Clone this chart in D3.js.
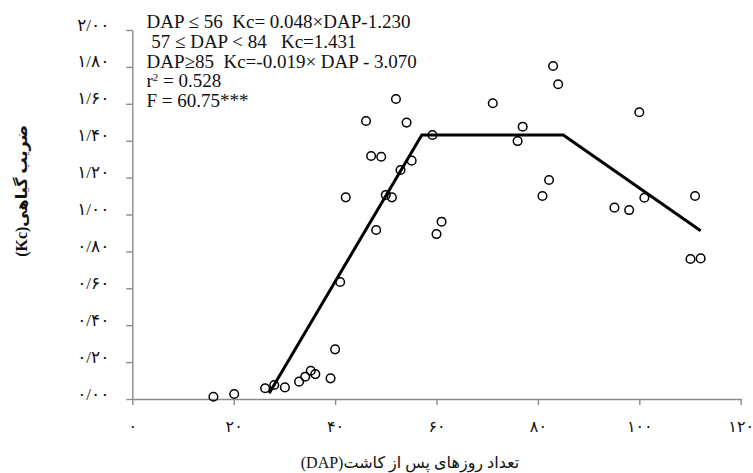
<!DOCTYPE html>
<html>
<head>
<meta charset="utf-8">
<script src="https://cdn.jsdelivr.net/npm/d3@7"></script>
<style>
  body { margin: 0; background: #fff; }
  svg { display: block; }
  text { font-family: "Liberation Serif", "DejaVu Sans", serif; fill: #111; }
  .axis path, .axis line { stroke: #8a8a8a; stroke-width: 1.4; }
  .eq { white-space: pre; }
</style>
</head>
<body>
<svg id="chart" width="753" height="473"></svg>
<script>
// observed points (days after planting, crop coefficient)
var dap = [16.0, 20.1, 26.2, 28.0, 30.1, 32.9, 34.1, 35.2, 36.1, 39.1,
           40.0, 41.0, 42.1, 46.1, 47.1, 48.1, 49.1, 50.0, 51.2, 52.0,
           52.9, 54.1, 55.1, 59.2, 60.0, 61.0, 71.1, 76.0, 77.0, 80.9,
           82.2, 83.0, 84.0, 95.1, 98.0, 100.0, 101.0, 110.1, 111.0, 112.1];
var kc = [0.012, 0.027, 0.058, 0.076, 0.063, 0.094, 0.121, 0.153, 0.135, 0.112,
          0.269, 0.634, 1.093, 1.507, 1.317, 0.916, 1.313, 1.106, 1.093, 1.626,
          1.241, 1.498, 1.292, 1.431, 0.894, 0.961, 1.603, 1.398, 1.476, 1.100,
          1.187, 1.805, 1.706, 1.037, 1.024, 1.554, 1.091, 0.759, 1.100, 0.762];

// segmented fit, vertices
var fitDap = [27.0, 57.1, 85.0, 112.1];
var fitKc = [0.031, 1.431, 1.431, 0.912];

// axis ticks
var xTicks = [0, 20, 40, 60, 80, 100, 120];
var xTickLabels = ["۰", "۲۰", "۴۰", "۶۰", "۸۰", "۱۰۰", "۱۲۰"];
var yTicks = [0, 0.2, 0.4, 0.6, 0.8, 1.0, 1.2, 1.4, 1.6, 1.8, 2.0];
var yTickLabels = ["۰/۰۰", "۰/۲۰", "۰/۴۰", "۰/۶۰", "۰/۸۰", "۱/۰۰",
                   "۱/۲۰", "۱/۴۰", "۱/۶۰", "۱/۸۰", "۲/۰۰"];

// annotation lines
var eqLines = [
  "DAP ≤ 56  Kc= 0.048×DAP-1.230",
  " 57 ≤ DAP < 84   Kc=1.431",
  "DAP≥85  Kc=-0.019× DAP - 3.070"
];
var r2Value = "0.528";
var fLine = "F = 60.75***";

var xTitle = "تعداد روزهای پس از کاشت(DAP)";
var yTitle = "ضریب گیاهی(Kc)";

var svg = d3.select("#chart");

var x = d3.scaleLinear().domain([0, 120]).range([132.3, 740.7]);
var y = d3.scaleLinear().domain([0, 2]).range([399, 30]);

// x axis
var gx = svg.append("g")
  .attr("class", "axis")
  .attr("transform", "translate(0," + y(0) + ")")
  .call(d3.axisBottom(x)
    .tickValues(xTicks)
    .tickSize(6)
    .tickSizeOuter(0)
    .tickPadding(24)
    .tickFormat(function (d, i) { return xTickLabels[i]; }));
gx.selectAll("text").attr("font-size", 16).attr("dy", "0.2em");

// y axis
var gy = svg.append("g")
  .attr("class", "axis")
  .attr("transform", "translate(" + x(0) + ",0)")
  .call(d3.axisLeft(y)
    .tickValues(yTicks)
    .tickSize(6)
    .tickSizeOuter(0)
    .tickPadding(17)
    .tickFormat(function (d, i) { return yTickLabels[i]; }));
gy.selectAll("text")
  .attr("font-size", 17)
  .attr("dy", "0em")
  .style("letter-spacing", "2px");
svg.selectAll(".axis text")
  .style("font-family", "'Liberation Serif', 'DejaVu Sans', serif")
  .style("fill", "#111");

// points
svg.append("g")
  .selectAll("circle")
  .data(d3.range(dap.length))
  .join("circle")
  .attr("cx", function (i) { return x(dap[i]); })
  .attr("cy", function (i) { return y(kc[i]); })
  .attr("r", 4.3)
  .attr("fill", "none")
  .attr("stroke", "#000")
  .attr("stroke-width", 1.5);

// fitted line
var line = d3.line()
  .x(function (i) { return x(fitDap[i]); })
  .y(function (i) { return y(fitKc[i]); });

svg.append("path")
  .attr("d", line(d3.range(fitDap.length)))
  .attr("fill", "none")
  .attr("stroke", "#000")
  .attr("stroke-width", 3)
  .attr("stroke-linejoin", "round");

// equations text
var eq = svg.append("text")
  .attr("class", "eq")
  .attr("font-size", 19);

var lineGap = 19.75;
eqLines.forEach(function (d, i) {
  eq.append("tspan").attr("x", 146.5).attr("y", 28 + i * lineGap).text(d);
});
eq.append("tspan").attr("x", 146.5).attr("y", 28 + 3 * lineGap).text("r");
eq.append("tspan").attr("font-size", 11).attr("dy", -6).text("2");
eq.append("tspan").attr("dy", 6).text(" = " + r2Value);
eq.append("tspan").attr("x", 146.5).attr("y", 28 + 4 * lineGap).text(fLine);

// axis titles
svg.append("text")
  .attr("x", 410)
  .attr("y", 468)
  .attr("text-anchor", "middle")
  .attr("direction", "rtl")
  .attr("font-size", 16)
  .text(xTitle);

svg.append("text")
  .attr("transform", "translate(27,191) rotate(-90)")
  .attr("text-anchor", "middle")
  .attr("direction", "rtl")
  .attr("font-size", 16)
  .attr("font-weight", "bold")
  .text(yTitle);
</script>
</body>
</html>
